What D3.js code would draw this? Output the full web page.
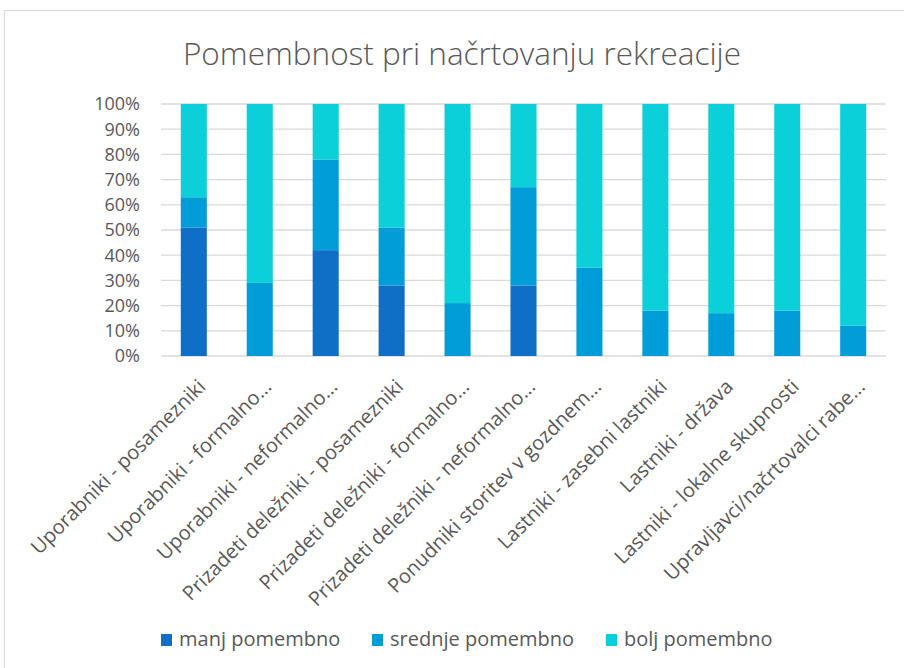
<!DOCTYPE html>
<html>
<head>
<meta charset="utf-8">
<script src="https://cdn.jsdelivr.net/npm/d3@7"></script>
<style>
  body { margin: 0; background: #fff; }
  text { font-family: "Open Sans", "Liberation Sans", sans-serif; fill: #595959; }
</style>
</head>
<body>
<svg id="chart" width="904" height="668"></svg>
<script>
const title = "Pomembnost pri načrtovanju rekreacije";

const categories = [
    "Uporabniki - posamezniki",
    "Uporabniki - formalno...",
    "Uporabniki - neformalno...",
    "Prizadeti deležniki - posamezniki",
    "Prizadeti deležniki - formalno...",
    "Prizadeti deležniki - neformalno...",
    "Ponudniki storitev v gozdnem...",
    "Lastniki - zasebni lastniki",
    "Lastniki - država",
    "Lastniki - lokalne skupnosti",
    "Upravljavci/načrtovalci rabe..."
];

const seriesNames = ["manj pomembno", "srednje pomembno", "bolj pomembno"];
const colors = ["#0F6FC6", "#009DD9", "#0BD0D9"];

// percent shares per category
const manj    = [51,  0, 42, 28,  0, 28,  0,  0,  0,  0,  0];
const srednje = [12, 29, 36, 23, 21, 39, 35, 18, 17, 18, 12];
const bolj    = [37, 71, 22, 49, 79, 33, 65, 82, 83, 82, 88];

const yTicks = [0, 10, 20, 30, 40, 50, 60, 70, 80, 90, 100];

const svg = d3.select("#chart");

// outer frame
svg.append("rect")
    .attr("x", 4.5).attr("y", 10.5)
    .attr("width", 920).attr("height", 680)
    .attr("fill", "none")
    .attr("stroke", "#d9d9d9");

svg.append("text")
    .attr("x", 462).attr("y", 65)
    .attr("text-anchor", "middle")
    .style("font-size", "31.5px")
    .style("font-weight", 300)
    .text(title);

const plot = { left: 161, right: 886, top: 104, bottom: 356 };

const x = d3.scaleBand()
    .domain(categories)
    .range([plot.left, plot.right])
    .paddingInner(0.605)
    .paddingOuter(0.3);

const y = d3.scaleLinear()
    .domain([0, 100])
    .range([plot.bottom, plot.top]);

// grid
svg.append("g")
    .selectAll("line")
    .data(yTicks)
    .join("line")
    .attr("x1", plot.left).attr("x2", plot.right)
    .attr("y1", d => y(d)).attr("y2", d => y(d))
    .attr("stroke", "#d9d9d9")
    .attr("stroke-width", 1.3);

// y axis labels
svg.append("g")
    .selectAll("text")
    .data(yTicks)
    .join("text")
    .attr("x", 140)
    .attr("y", d => y(d))
    .attr("dy", "0.36em")
    .attr("text-anchor", "end")
    .style("font-size", "18px")
    .text(d => d + "%");

const rows = categories.map((c, i) => ({
    cat: c, manj: manj[i], srednje: srednje[i], bolj: bolj[i]
}));

const stack = d3.stack().keys(["manj", "srednje", "bolj"]);
const layers = stack(rows);

svg.append("g")
    .selectAll("g")
    .data(layers)
    .join("g")
    .attr("fill", (d, i) => colors[i])
    .selectAll("rect")
    .data(d => d.filter(p => p[1] > p[0]))
    .join("rect")
    .attr("x", d => x(d.data.cat))
    .attr("width", x.bandwidth())
    .attr("y", d => y(d[1]))
    .attr("height", d => y(d[0]) - y(d[1]));

// x labels, rotated
svg.append("g")
    .selectAll("text")
    .data(categories)
    .join("text")
    .attr("transform", d => "translate(" + (x(d) + x.bandwidth() / 2 + 8) + "," + (plot.bottom + 27) + ") rotate(-45)")
    .attr("text-anchor", "end")
    .attr("dy", "0.35em")
    .style("font-size", "20px")
    .text(d => d);

// legend
const legendX = [161, 372, 606];
const legend = svg.append("g")
    .selectAll("g")
    .data(seriesNames)
    .join("g")
    .attr("transform", (d, i) => "translate(" + legendX[i] + ",640)");

legend.append("rect")
    .attr("x", 0).attr("y", -6)
    .attr("width", 11).attr("height", 12)
    .attr("fill", (d, i) => colors[i]);

legend.append("text")
    .attr("x", 18)
    .attr("y", 6)
    .style("font-size", "20px")
    .text(d => d);
</script>
</body>
</html>
